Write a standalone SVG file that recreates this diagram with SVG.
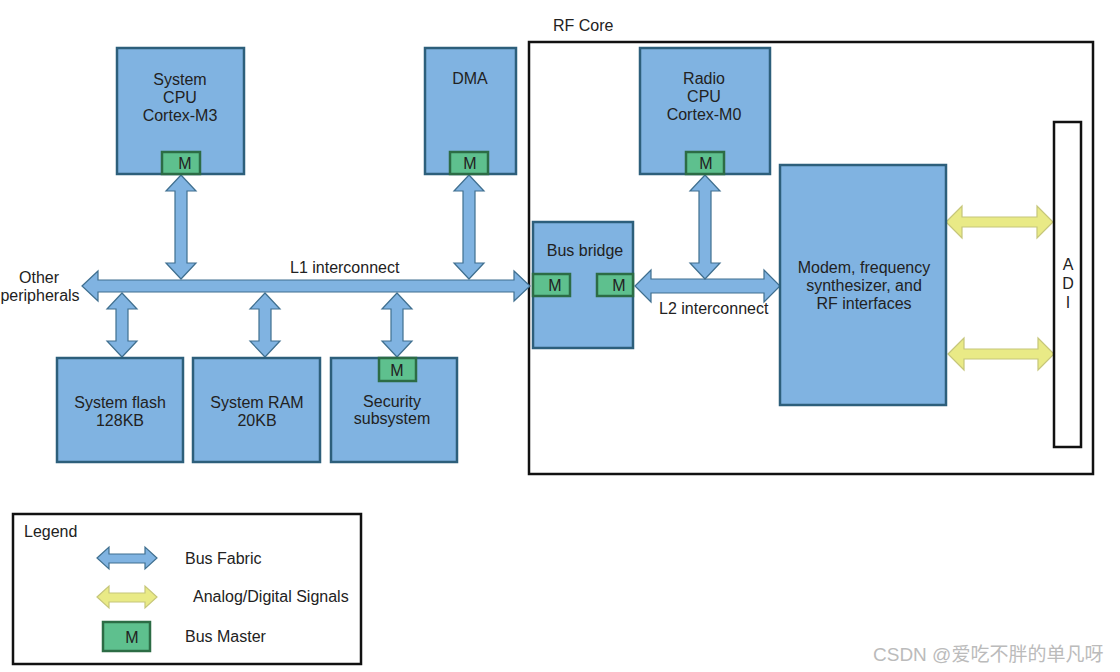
<svg xmlns="http://www.w3.org/2000/svg" width="1120" height="672" viewBox="0 0 1120 672">
<style>
text{font-family:"Liberation Sans",Arial,sans-serif;font-size:16px;fill:#222}
.c{text-anchor:middle}
.box{fill:#80b3e1;stroke:#2d5f7b;stroke-width:2.5}
.m{fill:#5ec08e;stroke:#2c6c45;stroke-width:2.5}
.bus{fill:#80b3e1;stroke:#3f6f8f;stroke-width:1.2}
.sig{fill:#e9ea86;stroke:#c6c67a;stroke-width:1.2}
.frame{fill:#fff;stroke:#111;stroke-width:2.5}
</style>
<rect width="1120" height="672" fill="#fff"/>
<g id="rfcore"><rect class="frame" x="529" y="42" width="564" height="432" fill="none"/><text x="553" y="31">RF Core</text></g>
<g id="connectors">
<path class="bus" d="M82,286 L98,271 L98,280 L514,280 L514,271 L530,286 L514,301 L514,292 L98,292 L98,301 Z"/>
<path class="bus" d="M181,175 L196,191 L187,191 L187,263 L196,263 L181,279 L166,263 L175,263 L175,191 L166,191 Z"/>
<path class="bus" d="M469,175 L484,191 L475,191 L475,263 L484,263 L469,279 L454,263 L463,263 L463,191 L454,191 Z"/>
<path class="bus" d="M122,293 L137,309 L128,309 L128,341 L137,341 L122,357 L107,341 L116,341 L116,309 L107,309 Z"/>
<path class="bus" d="M265,293 L280,309 L271,309 L271,341 L280,341 L265,357 L250,341 L259,341 L259,309 L250,309 Z"/>
<path class="bus" d="M397,293 L412,309 L403,309 L403,341 L412,341 L397,357 L382,341 L391,341 L391,309 L382,309 Z"/>
<path class="bus" d="M635,286 L651,270 L651,279 L764,279 L764,270 L780,286 L764,302 L764,293 L651,293 L651,302 Z"/>
<path class="bus" d="M705,175 L720,191 L711,191 L711,263 L720,263 L705,279 L690,263 L699,263 L699,191 L690,191 Z"/>
<path class="sig" d="M946,222 L962,206 L962,217 L1037,217 L1037,206 L1053,222 L1037,238 L1037,227 L962,227 L962,238 Z"/>
<path class="sig" d="M948,354 L964,338 L964,349 L1038,349 L1038,338 L1054,354 L1038,370 L1038,359 L964,359 L964,370 Z"/>
</g>
<g id="cpu"><rect class="box" x="117" y="48" width="127" height="126"/><text class="c" x="180" y="85">System</text><text class="c" x="180" y="103">CPU</text><text class="c" x="180" y="121">Cortex-M3</text><rect class="m" x="162" y="152" width="38" height="22"/><text class="c" x="185" y="169">M</text></g>
<g id="dma"><rect class="box" x="425" y="48" width="91" height="126"/><text class="c" x="470" y="84">DMA</text><rect class="m" x="450" y="152" width="38" height="22"/><text class="c" x="470" y="169">M</text></g>
<g id="radio"><rect class="box" x="640" y="48" width="130" height="126"/><text class="c" x="704" y="84">Radio</text><text class="c" x="704" y="102">CPU</text><text class="c" x="704" y="120">Cortex-M0</text><rect class="m" x="686" y="152" width="38" height="22"/><text class="c" x="706" y="169">M</text></g>
<g id="bridge"><rect class="box" x="533" y="222" width="100" height="126"/><text class="c" x="585" y="256">Bus bridge</text><rect class="m" x="533" y="274" width="37" height="22"/><text class="c" x="555" y="291">M</text><rect class="m" x="597" y="274" width="36" height="22"/><text class="c" x="619" y="291">M</text></g>
<g id="modem"><rect class="box" x="780" y="165" width="166" height="240"/><text class="c" x="864" y="273">Modem, frequency</text><text class="c" x="864" y="291">synthesizer, and</text><text class="c" x="864" y="309">RF interfaces</text></g>
<g id="adi"><rect class="frame" x="1054" y="122" width="27" height="325"/><text class="c" x="1068" y="270">A</text><text class="c" x="1068" y="289">D</text><text class="c" x="1068" y="308">I</text></g>
<g id="flash"><rect class="box" x="57" y="358" width="126" height="104"/><text class="c" x="120" y="408">System flash</text><text class="c" x="120" y="426">128KB</text></g>
<g id="ram"><rect class="box" x="193" y="358" width="127" height="104"/><text class="c" x="257" y="408">System RAM</text><text class="c" x="257" y="426">20KB</text></g>
<g id="security"><rect class="box" x="331" y="358" width="126" height="104"/><rect class="m" x="379" y="358" width="37" height="23"/><text class="c" x="397" y="376">M</text><text class="c" x="392" y="407">Security</text><text class="c" x="392" y="424">subsystem</text></g>
<g id="labels"><text x="290" y="273">L1 interconnect</text><text x="659" y="314">L2 interconnect</text><text class="c" x="39" y="283">Other</text><text class="c" x="40" y="301">peripherals</text></g>
<g id="legend"><rect class="frame" x="13" y="514" width="348" height="150"/><text x="24" y="537">Legend</text>
<path class="bus" d="M97,558 L109,547 L109,554 L145,554 L145,547 L157,558 L145,569 L145,563 L109,563 L109,569 Z"/>
<text x="185" y="564">Bus Fabric</text>
<path class="sig" d="M97,597 L109,586 L109,593 L145,593 L145,586 L157,597 L145,608 L145,602 L109,602 L109,608 Z"/>
<text x="193" y="602">Analog/Digital Signals</text>
<rect class="m" x="103" y="622" width="47" height="29"/><text class="c" x="132" y="643">M</text>
<text x="185" y="642">Bus Master</text></g>
<text x="873" y="661" style="fill:#bbb;font-size:19px;font-family:'Liberation Sans','Noto Sans CJK SC',sans-serif">CSDN @爱吃不胖的单凡呀</text>
</svg>
